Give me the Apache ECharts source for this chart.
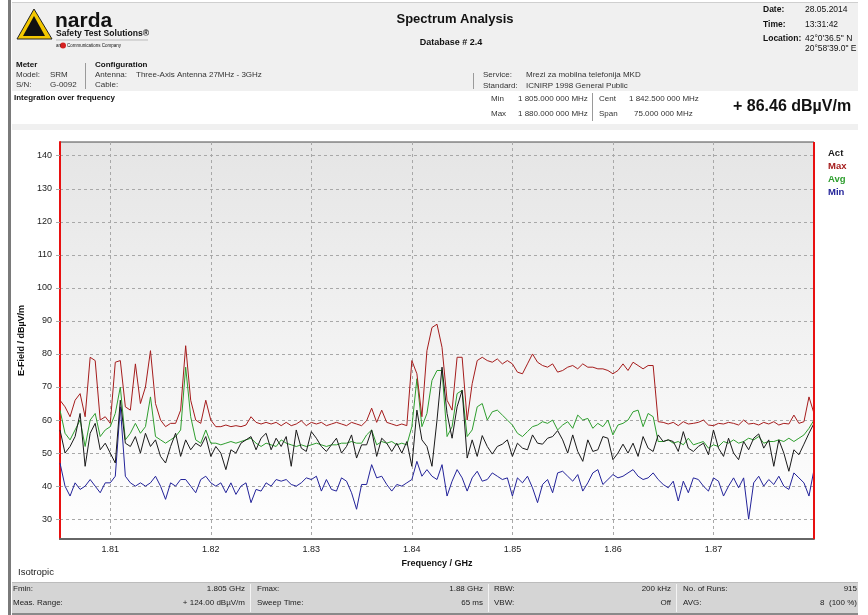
<!DOCTYPE html>
<html><head><meta charset="utf-8">
<script src="https://cdn.jsdelivr.net/npm/echarts@6/dist/echarts.min.js"></script>
<style>html,body{margin:0;padding:0;background:#fff;}#c{width:868px;height:615px;}</style>
</head><body><div id="c"></div><script>
// Sweep grid (MHz) – each value below is one sample of the trace
const F_START_MHZ = 1805;
const F_STEP_MHZ = 0.5;
const X_TICKS = [1.81, 1.82, 1.83, 1.84, 1.85, 1.86, 1.87];
const Y_TICKS = [30, 40, 50, 60, 70, 80, 90, 100, 110, 120, 130, 140];
const LEGEND_NAMES = ['Act', 'Max', 'Avg', 'Min'];

const ACT = [57,50,52,55,62,46,56,59,51,53, 50,47,66,53,52,55,50,56,52,54, 49,47,52,56,49,54,51,53,52,55, 49,52,50,45,51,50,53,54,
 55,51,54.5,56,51,54.5,52,55,46,57, 51.5,50.5,56.5,54.5,52,50.5,52.5,54.5,50,52, 55.5,48.5,52.5,52.5,57,49,54.5,53,50.5,53, 50,53.5,46,63,54,52,46,60,
 76,62,54.5,64,69,48.5,54,49,55.3,52, 49.7,52,52.7,54,49,53,51.5,51,55.5,53, 52.7,54.5,55,56.8,54,50,55.5,50.5,47.5,54, 50.5,51,55,54.5,48,50,52.7,
 50,53,49,55,51.5,50.5,55.5,53.5,54,53.5, 50.5,56.5,51.5,50.5,52,53,49.5,57,51.5,49, 54.5,50,48,53.5,51,54.5,55.8,51.5,54,46, 54,50,44.5,51,49.5,52.7,56,59];

const MAX = [66,64,61,66,68,61,79,78,60,61, 59,77.5,78,64,63,77,65,70,81,65, 60,58,59,59,63,82.5,66,60,59,66, 60,58,58,58.5,58,58.3,58,58.5,
 61,59.3,58.8,59.3,58.8,59.3,58.3,59.3,58.3,58.8, 59.8,58.3,59.3,58.8,59.3,58.3,58.8,59.3,58.8,58.3, 59.3,58.8,58.3,59.8,63.6,59.3,63,59.3,58.8,58.3, 58.8,58.3,78,74,61,81,88,89,
 82,66,63,79,79,60,71,78,79,78, 77.5,78.5,77,78,77,74.5,74,77,80,77.5, 76.5,76,77,74.5,75,76,76.5,75.5,77,76, 76,75.5,75.5,75,74,75,77,
 75,77.5,76.5,75.5,76.5,76.5,59.5,59.3,58.8,59.3, 58.3,59.5,58.8,59,59.3,60,58.5,58.3,59,58.8, 59.3,59,58.5,60,58.8,59,58.5,59.3,58.8,59.5, 58.5,59,58.8,61.5,59,59.5,67,62];

const AVG = [63,56,54,57,60,52,60,62,55,57, 58,62,70,54,56,59,56,58,67,55, 54,53,54,55,57,76,61,54,53,57, 53,53,52.5,53,53.5,53,53.5,54,
 54.5,53,52,53,52.5,52,54,53,52.5,52, 52.5,52,52.5,53,52.5,52,52.5,52.5,53,53, 53.5,53,53,55.5,57,52.5,53.5,53,53.5,52.5, 53,52.5,58,72.5,58,62,72,75,
 75,55,58,68,69,55,57,64,65,60, 62.5,63,61.5,60,58.5,56,55,56.5,58,58.5, 59.5,59,60,57,58.5,59.5,57.5,61.5,60,60.5, 57.5,59,58,60,55.5,58.5,59,
 60,62.5,63,58,62,61,53.5,53.5,54,53, 53.5,52.5,54.5,52.5,53,53.5,51.5,52.5,52,53.5, 53,54,53,53.5,54.5,54,55,53,53.5,53.5, 54,53.5,54.5,53.5,54.5,55.5,57.5,60];

const MIN = [47,40,37,41,39,40,42,40,38,41, 41,43,64,43,41,40,41,40,41,43, 40,36,41,40,42,42,40,38,42,43, 41,40,41,38,41,37.5,40,41,
 35,39,38.5,41,40,42,41.5,42,40.5,40, 41,42.5,42,43,38.5,42,39,38.5,42.5,41.5, 38,33,40.5,40.5,46.5,42.5,43,40.5,38.5,40.5, 40,41,42,47.5,43,45,43,42,
 46.5,37,41.5,45,42.5,38.5,42.5,44.5,41.5,42, 44,43,42,42.5,37,42.5,41,43,39.5,35, 40.5,42,38,44,44.5,43,41.5,43.5,38.5,41, 44,45,40.5,42,43.5,42.5,43,
 44,45,43,42,42.5,44,42,40.5,39.5,41.5, 35.5,41.5,38,42.5,42,40,38.5,42.5,41.5,37, 40,42.5,39.5,42.5,30,41,43,40,42,40.5, 43,40,39,44,42.5,41,37,45];

function pairs(arr){ return arr.map((v,i)=>[(F_START_MHZ + i*F_STEP_MHZ)/1000, v]); }

const FONT = '"Liberation Sans", Arial, sans-serif';
function T(x, y, text, size, opts){
  opts = opts || {};
  return {type:'text', x:x, y:y, z:100, silent:true,
    style:{text:text, font:(opts.bold?'bold ':'') + size + 'px ' + FONT, fill:opts.color||'#111',
      textAlign:opts.align||'left', textVerticalAlign:'middle'}};
}
function R(x,y,w,h,fill,z){ return {type:'rect', z:(z===undefined?-5:z), silent:true, shape:{x:x,y:y,width:w,height:h}, style:{fill:fill}}; }
function L(x1,y1,x2,y2,color,w){ return {type:'line', z:50, silent:true, shape:{x1:x1,y1:y1,x2:x2,y2:y2}, style:{stroke:color, lineWidth:w||1}}; }

const graphics = [
  R(12,2,846,89,'#f0f0f0'),
  L(12,2.5,858,2.5,'#cfcfcf',1),
  R(12,91,846,33,'#ffffff'),
  R(12,124,846,6,'#f0f0f0'),
  R(12,582,846,33,'#d5d5d5'),
  L(12,582.5,858,582.5,'#bcbcbc',1),
  L(12,614,858,614,'#8a8a8a',2),
  R(8,0,3,615,'#7a7a7a',60),
  // logo
  {type:'polygon', z:60, silent:true, shape:{points:[[17,39],[34,9],[52,39]]}, style:{fill:'#f4c800', stroke:'#222', lineWidth:1}},
  {type:'polygon', z:61, silent:true, shape:{points:[[23,36],[34,16],[45,36]]}, style:{fill:'#111'}},
  T(55,21,'narda',21,{bold:true}),
  T(56,34,'Safety Test Solutions\u00ae',8.6,{bold:true}),
  {type:'line', z:60, silent:true, shape:{x1:56,y1:40,x2:148,y2:40}, style:{stroke:'#bbb',lineWidth:1}},
  {type:'circle', z:60, silent:true, shape:{cx:63,cy:45.5,r:3}, style:{fill:'#d42020'}},
  T(56,45.5,'an',4.5),
  T(67,45.5,'Communications Company',4.5),
  // title
  T(455,19,'Spectrum Analysis',13,{bold:true, align:'center'}),
  T(451,43,'Database # 2.4',9,{bold:true, align:'center'}),
  // date block
  T(763,10,'Date:',8.5,{bold:true}), T(805,10,'28.05.2014',8.5),
  T(763,25,'Time:',8.5,{bold:true}), T(805,25,'13:31:42',8.5),
  T(763,39,'Location:',8.5,{bold:true}), T(805,39,'42\u00b00\'36.5" N',8.5),
  T(805,49,'20\u00b058\'39.0" E',8.5),
  // meter / configuration
  T(16,65,'Meter',8,{bold:true}),
  T(16,75,'Model:',8,{color:'#333'}), T(50,75,'SRM',8,{color:'#333'}),
  T(16,85,'S/N:',8,{color:'#333'}), T(50,85,'G-0092',8,{color:'#333'}),
  L(85.5,63,85.5,89,'#9a9a9a',1),
  T(95,65,'Configuration',8,{bold:true}),
  T(95,75,'Antenna:',8,{color:'#333'}), T(136,75,'Three-Axis Antenna 27MHz - 3GHz',8,{color:'#333'}),
  T(95,85,'Cable:',8,{color:'#333'}),
  L(473.5,73,473.5,89,'#9a9a9a',1),
  T(483,75,'Service:',8,{color:'#333'}), T(526,75,'Mrezi za mobilna telefonija MKD',8,{color:'#333'}),
  T(483,86,'Standard:',8,{color:'#333'}), T(526,86,'ICNIRP 1998 General Public',8,{color:'#333'}),
  T(14,98,'Integration over frequency',8,{bold:true}),
  T(491,99,'Min',8,{color:'#333'}), T(518,99,'1 805.000 000 MHz',8,{color:'#333'}),
  T(491,114,'Max',8,{color:'#333'}), T(518,114,'1 880.000 000 MHz',8,{color:'#333'}),
  L(592.5,93,592.5,121,'#9a9a9a',1),
  T(599,99,'Cent',8,{color:'#333'}), T(629,99,'1 842.500 000 MHz',8,{color:'#333'}),
  T(599,114,'Span',8,{color:'#333'}), T(634,114,'75.000 000 MHz',8,{color:'#333'}),
  T(733,107,'+ 86.46 dB\u00b5V/m',16,{bold:true}),
  // isotropic + footer
  T(18,572,'Isotropic',9.5,{color:'#222'}),
  T(13,589,'Fmin:',8,{color:'#222'}), T(245,589,'1.805 GHz',8,{color:'#222',align:'right'}),
  T(13,603,'Meas. Range:',8,{color:'#222'}), T(245,603,'+ 124.00 dB\u00b5V/m',8,{color:'#222',align:'right'}),
  L(250.5,584,250.5,612,'#f4f4f4',1),
  T(257,589,'Fmax:',8,{color:'#222'}), T(483,589,'1.88 GHz',8,{color:'#222',align:'right'}),
  T(257,603,'Sweep Time:',8,{color:'#222'}), T(483,603,'65 ms',8,{color:'#222',align:'right'}),
  L(488.5,584,488.5,612,'#f4f4f4',1),
  T(494,589,'RBW:',8,{color:'#222'}), T(671,589,'200 kHz',8,{color:'#222',align:'right'}),
  T(494,603,'VBW:',8,{color:'#222'}), T(671,603,'Off',8,{color:'#222',align:'right'}),
  L(676.5,584,676.5,612,'#f4f4f4',1),
  T(683,589,'No. of Runs:',8,{color:'#222'}), T(857,589,'915',8,{color:'#222',align:'right'}),
  T(683,603,'AVG:',8,{color:'#222'}), T(857,603,'8  (100 %)',8,{color:'#222',align:'right'})
];

const COLORS = {Act:'#1a1a1a', Max:'#a51c1c', Avg:'#2e9e2e', Min:'#23239a'};
const DATA = {Act:ACT, Max:MAX, Avg:AVG, Min:MIN};

const chart = echarts.init(document.getElementById('c'), null, {renderer:'canvas'});
const series = ['Min','Avg','Act','Max'].map(n => ({
  name:n, type:'line', data:pairs(DATA[n]), showSymbol:false, symbol:'none',
  lineStyle:{color:COLORS[n], width:1}, itemStyle:{color:COLORS[n]}, animation:false, z:3
}));
series[3].markLine = {silent:true, symbol:'none', label:{show:false}, animation:false,
  lineStyle:{color:'#e81010', width:2, type:'solid'}, data:[{xAxis:1.88}]};

chart.setOption({
  animation:false,
  backgroundColor:'#ffffff',
  graphic:{elements:graphics},
  grid:{left:60, right:54, top:142, bottom:76, show:true, borderColor:'#4a4a4a', borderWidth:1,
    backgroundColor:new echarts.graphic.LinearGradient(0,0,0,1,[{offset:0,color:'#e5e5e5'},{offset:1,color:'#ffffff'}])},
  legend:{orient:'vertical', left:818, top:143, icon:'none', itemWidth:0, itemHeight:10, itemGap:3, selectedMode:false,
    textStyle:{fontFamily:FONT, fontSize:9.5, fontWeight:'bold'},
    data:LEGEND_NAMES.map(n=>({name:n, textStyle:{color:COLORS[n]}}))},
  xAxis:{type:'value', min:1.805, max:1.88, name:'Frequency / GHz', nameLocation:'middle', nameGap:19,
    nameTextStyle:{fontFamily:FONT, fontSize:9, fontWeight:'bold', color:'#111'},
    axisLine:{show:true, lineStyle:{color:'#666', width:2}},
    axisTick:{show:false, customValues:X_TICKS},
    axisLabel:{customValues:X_TICKS, formatter:v=>v.toFixed(2), fontFamily:FONT, fontSize:9, color:'#222', margin:6},
    splitLine:{show:true, lineStyle:{color:'#a8a8a8', type:[3,3], width:1}}},
  yAxis:{type:'value', min:24, max:144.15, name:'E-Field / dB\u00b5V/m', nameLocation:'middle', nameGap:33, nameRotate:90,
    nameTextStyle:{fontFamily:FONT, fontSize:9, fontWeight:'bold', color:'#111'},
    axisLine:{show:true, lineStyle:{color:'#e81010', width:2}},
    axisTick:{show:true, length:4, customValues:Y_TICKS, lineStyle:{color:'#aaa'}},
    axisLabel:{customValues:Y_TICKS, fontFamily:FONT, fontSize:9, color:'#222', margin:8},
    splitLine:{show:true, lineStyle:{color:'#a8a8a8', type:[3,3], width:1}}},
  series:series
});
</script></body></html>
